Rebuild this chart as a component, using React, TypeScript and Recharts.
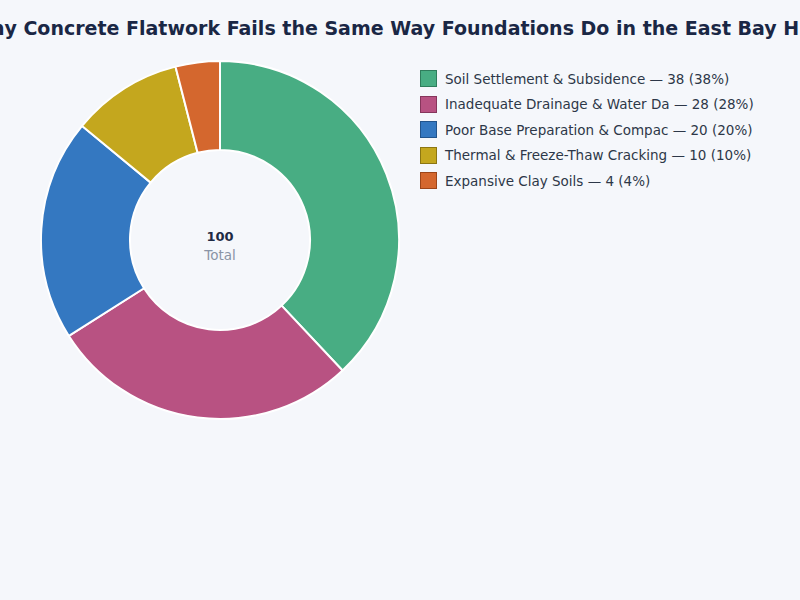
import React from 'react';
import { PieChart, Pie, Cell } from 'recharts';

const TITLE = 'Why Concrete Flatwork Fails the Same Way Foundations Do in the East Bay Hills';
const CAUSES = [
  'Soil Settlement & Subsidence',
  'Inadequate Drainage & Water Damage',
  'Poor Base Preparation & Compaction',
  'Thermal & Freeze-Thaw Cracking',
  'Expansive Clay Soils',
];
const SHARES = [38, 28, 20, 10, 4];
const COLORS = ['#48ad83', '#b85282', '#3478c1', '#c4a71e', '#d4672e'];
const BORDERS = ['#2f7d5c', '#86365c', '#22548c', '#8c7612', '#9c4519'];

const FONT = '"DejaVu Sans", Verdana, sans-serif';
const CX = 220;
const CY = 240;

const data = CAUSES.map((name, i) => ({ name, value: SHARES[i], color: COLORS[i] }));
const total = SHARES.reduce((a, b) => a + b, 0);

function ChartLegend() {
  return (
    <div style={{ position: 'absolute', left: 420, top: 66, fontFamily: FONT, fontSize: 13.5, color: '#2d3748' }}>
      {data.map((d, i) => (
        <div key={d.name} style={{ display: 'flex', alignItems: 'center', height: 25.5, whiteSpace: 'nowrap' }}>
          <span
            style={{
              width: 17,
              height: 17,
              background: d.color,
              border: `1px solid ${BORDERS[i]}`,
              marginRight: 8,
              boxSizing: 'border-box',
            }}
          />
          <span>{`${d.name.slice(0, 30)} \u2014 ${d.value} (${Math.round((d.value / total) * 100)}%)`}</span>
        </div>
      ))}
    </div>
  );
}

export default function App() {
  return (
    <div style={{ position: 'absolute', left: 0, top: 0, width: 800, height: 600, background: '#f5f7fb' }}>
      <PieChart width={800} height={600} margin={{ top: 0, right: 0, bottom: 0, left: 0 }}>
        <text x={400} y={35} textAnchor="middle" fontFamily={FONT} fontSize={19} fontWeight="bold" fill="#1a2745">
          {TITLE}
        </text>
        <Pie
          data={data}
          dataKey="value"
          nameKey="name"
          cx={CX}
          cy={CY}
          innerRadius={90}
          outerRadius={179}
          startAngle={90}
          endAngle={-270}
          stroke="#ffffff"
          strokeWidth={2}
          isAnimationActive={false}
        >
          {data.map((d) => (
            <Cell key={d.name} fill={d.color} />
          ))}
        </Pie>
        <text x={CX} y={CY + 1} textAnchor="middle" fontFamily={FONT} fontSize={13} fontWeight="bold" fill="#1e2a44">
          {total}
        </text>
        <text x={CX} y={CY + 20} textAnchor="middle" fontFamily={FONT} fontSize={13.5} fill="#8a94a6">
          Total
        </text>
      </PieChart>
      <ChartLegend />
    </div>
  );
}
